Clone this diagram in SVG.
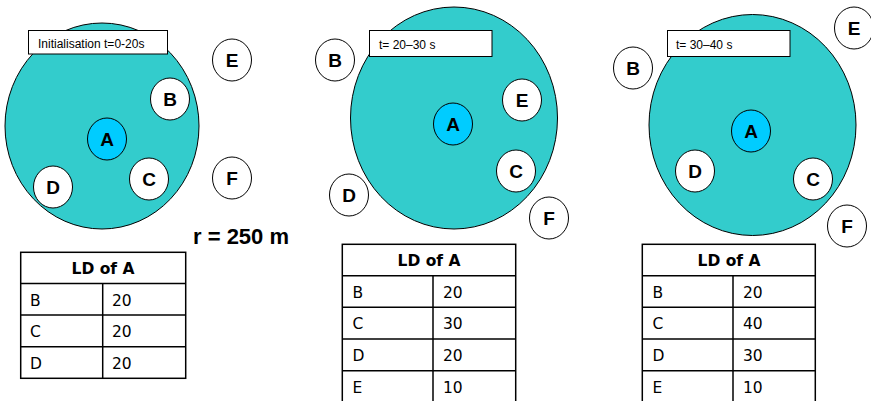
<svg xmlns="http://www.w3.org/2000/svg" width="871" height="401" viewBox="0 0 871 401">
  <style>
    .range { fill: #33CCCC; stroke: #000; stroke-width: 1; }
    .node { fill: #fff; stroke: #000; stroke-width: 1; }
    .src { fill: #00CCFF; stroke: #000; stroke-width: 1; }
    .nl { font-family: "Liberation Sans", Arial, sans-serif; font-weight: bold; font-size: 19px; text-anchor: middle; fill: #000; }
    .cap { fill: #fff; stroke: #000; stroke-width: 1; }
    .capt { font-family: "Liberation Sans", Arial, sans-serif; font-size: 12px; fill: #000; }
    .radius { font-family: "Liberation Sans", Arial, sans-serif; font-weight: bold; font-size: 22px; fill: #000; }
    .tbl { fill: #fff; stroke: #000; stroke-width: 1.5; }
    .tl { stroke: #000; stroke-width: 1.5; }
    .th { font-family: "DejaVu Sans", Verdana, sans-serif; font-weight: bold; font-size: 15.5px; text-anchor: middle; fill: #000; }
    .td { font-family: "DejaVu Sans", Verdana, sans-serif; font-size: 15.5px; fill: #000; }
  </style>

  <!-- Snapshot 1: initialisation -->
  <g id="range1"><ellipse class="range" cx="102" cy="126" rx="97" ry="103"/></g>
  <g id="cap1"><rect class="cap" x="28.5" y="30.5" width="139" height="23.5"/><text class="capt" x="38" y="48">Initialisation t=0-20s</text></g>
  <g id="n1E"><ellipse class="node" cx="232" cy="60" rx="19.5" ry="21"/><text class="nl" x="232" y="67">E</text></g>
  <g id="n1B"><ellipse class="node" cx="170" cy="99" rx="19.5" ry="21"/><text class="nl" x="170" y="106">B</text></g>
  <g id="n1A"><ellipse class="src" cx="107" cy="139" rx="19.5" ry="21"/><text class="nl" x="107" y="146">A</text></g>
  <g id="n1C"><ellipse class="node" cx="149" cy="179" rx="19.5" ry="21"/><text class="nl" x="149" y="186">C</text></g>
  <g id="n1D"><ellipse class="node" cx="53" cy="187" rx="19.5" ry="21"/><text class="nl" x="53" y="194">D</text></g>
  <g id="n1F"><ellipse class="node" cx="232" cy="178" rx="19.5" ry="21"/><text class="nl" x="232" y="185">F</text></g>
  <text class="radius" x="193" y="244">r = 250 m</text>

  <!-- Snapshot 2: t = 20-30 s -->
  <g id="range2"><ellipse class="range" cx="454" cy="118" rx="103.5" ry="111"/></g>
  <g id="cap2"><rect class="cap" x="369.5" y="30.5" width="122.5" height="26"/><text class="capt" x="379" y="49">t= 20–30 s</text></g>
  <g id="n2B"><ellipse class="node" cx="335" cy="60" rx="19.5" ry="21"/><text class="nl" x="335" y="67">B</text></g>
  <g id="n2A"><ellipse class="src" cx="453" cy="124" rx="19.5" ry="21"/><text class="nl" x="453" y="131">A</text></g>
  <g id="n2E"><ellipse class="node" cx="522" cy="100" rx="19.5" ry="21"/><text class="nl" x="522" y="107">E</text></g>
  <g id="n2C"><ellipse class="node" cx="516" cy="171" rx="19.5" ry="21"/><text class="nl" x="516" y="178">C</text></g>
  <g id="n2D"><ellipse class="node" cx="349" cy="195" rx="19.5" ry="21"/><text class="nl" x="349" y="202">D</text></g>
  <g id="n2F"><ellipse class="node" cx="549" cy="218" rx="19.5" ry="21"/><text class="nl" x="549" y="225">F</text></g>

  <!-- Snapshot 3: t = 30-40 s -->
  <g id="range3"><ellipse class="range" cx="752.5" cy="125" rx="103.5" ry="110.5"/></g>
  <g id="cap3"><rect class="cap" x="667.5" y="30.5" width="122.5" height="26"/><text class="capt" x="676" y="49">t= 30–40 s</text></g>
  <g id="n3E"><ellipse class="node" cx="854" cy="28" rx="19.5" ry="21"/><text class="nl" x="854" y="35">E</text></g>
  <g id="n3B"><ellipse class="node" cx="633" cy="68" rx="19.5" ry="21"/><text class="nl" x="633" y="75">B</text></g>
  <g id="n3A"><ellipse class="src" cx="751" cy="131" rx="19.5" ry="21"/><text class="nl" x="751" y="138">A</text></g>
  <g id="n3D"><ellipse class="node" cx="695" cy="171" rx="19.5" ry="21"/><text class="nl" x="695" y="178">D</text></g>
  <g id="n3C"><ellipse class="node" cx="813" cy="179" rx="19.5" ry="21"/><text class="nl" x="813" y="186">C</text></g>
  <g id="n3F"><ellipse class="node" cx="847" cy="226" rx="19.5" ry="21"/><text class="nl" x="847" y="233">F</text></g>

  <!-- Link-duration tables -->
  <g id="table1">
    <rect class="tbl" x="20.7" y="252.3" width="165" height="126"/>
    <line class="tl" x1="20.7" y1="283.5" x2="185.7" y2="283.5"/>
    <line class="tl" x1="20.7" y1="315" x2="185.7" y2="315"/>
    <line class="tl" x1="20.7" y1="346.7" x2="185.7" y2="346.7"/>
    <line class="tl" x1="102.7" y1="283.5" x2="102.7" y2="378.3"/>
    <text class="th" x="103" y="274">LD of A</text>
    <text class="td" x="30" y="305.5">B</text><text class="td" x="112" y="305.5">20</text>
    <text class="td" x="30" y="337">C</text><text class="td" x="112" y="337">20</text>
    <text class="td" x="30" y="368.5">D</text><text class="td" x="112" y="368.5">20</text>
  </g>
  <g id="table2">
    <rect class="tbl" x="342.3" y="244.3" width="173.4" height="170"/>
    <line class="tl" x1="342.3" y1="275.7" x2="515.7" y2="275.7"/>
    <line class="tl" x1="342.3" y1="307.3" x2="515.7" y2="307.3"/>
    <line class="tl" x1="342.3" y1="339" x2="515.7" y2="339"/>
    <line class="tl" x1="342.3" y1="370.7" x2="515.7" y2="370.7"/>
    <line class="tl" x1="433" y1="275.7" x2="433" y2="414"/>
    <text class="th" x="429" y="266">LD of A</text>
    <text class="td" x="352.5" y="297.5">B</text><text class="td" x="443" y="297.5">20</text>
    <text class="td" x="352.5" y="329">C</text><text class="td" x="443" y="329">30</text>
    <text class="td" x="352.5" y="360.8">D</text><text class="td" x="443" y="360.8">20</text>
    <text class="td" x="352.5" y="392.5">E</text><text class="td" x="443" y="392.5">10</text>
  </g>
  <g id="table3">
    <rect class="tbl" x="642.3" y="244.3" width="173" height="170"/>
    <line class="tl" x1="642.3" y1="275.7" x2="815.3" y2="275.7"/>
    <line class="tl" x1="642.3" y1="307.3" x2="815.3" y2="307.3"/>
    <line class="tl" x1="642.3" y1="339" x2="815.3" y2="339"/>
    <line class="tl" x1="642.3" y1="370.7" x2="815.3" y2="370.7"/>
    <line class="tl" x1="733" y1="275.7" x2="733" y2="414"/>
    <text class="th" x="729" y="266">LD of A</text>
    <text class="td" x="652.5" y="297.5">B</text><text class="td" x="743" y="297.5">20</text>
    <text class="td" x="652.5" y="329">C</text><text class="td" x="743" y="329">40</text>
    <text class="td" x="652.5" y="360.8">D</text><text class="td" x="743" y="360.8">30</text>
    <text class="td" x="652.5" y="392.5">E</text><text class="td" x="743" y="392.5">10</text>
  </g>
</svg>
